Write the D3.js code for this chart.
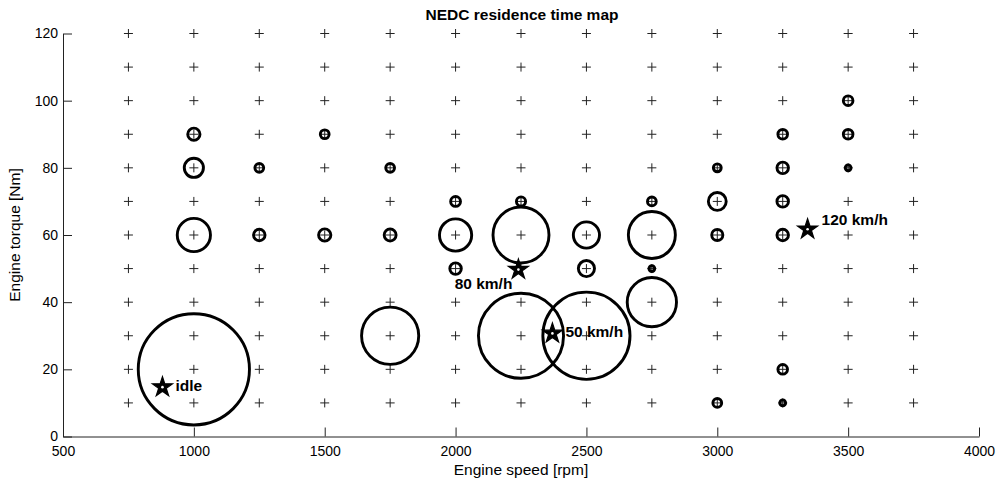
<!DOCTYPE html>
<html>
<head>
<meta charset="utf-8">
<script src="https://cdn.jsdelivr.net/npm/d3@7"></script>
<style>
  body { margin: 0; background: #fff; }
  text { font-family: "Liberation Sans", Arial, sans-serif; fill: #000; }
</style>
</head>
<body>
<script>
// grid of operating points (plus markers)
const gridSpeeds = [750, 1000, 1250, 1500, 1750, 2000, 2250, 2500, 2750, 3000, 3250, 3500, 3750];
const gridTorques = [10, 20, 30, 40, 50, 60, 70, 80, 90, 100, 110, 120];

// residence time per operating point [s]
const resSpeed  = [1000, 1000, 1000, 1000, 1250, 1250, 1500, 1500, 1750, 1750, 1750, 2000, 2000, 2000, 2250, 2250, 2250, 2500, 2500, 2500, 2750, 2750, 2750, 2750, 3000, 3000, 3000, 3000, 3250, 3250, 3250, 3250, 3250, 3250, 3500, 3500, 3500];
const resTorque = [20,   60,   80,   90,   80,   60,   60,   90,   80,   60,   30,   70,   60,   50,   70,   60,   30,   60,   50,   30,   70,   60,   50,   40,   80,   70,   60,   10,   90,   80,   70,   60,   20,   10,   100,  90,   80];
const resTime   = [280,  25,   8.3,  3.4,  1.75, 3.0,  3.4,  1.75, 1.75, 3.2,  74,   2.2,  23.5, 3.0,  1.9,  71,   164,  15.5, 5.9,  172,  1.75, 50,   0.75, 55,   1.4,  7.2,  2.8,  1.75, 2.1,  3.0,  3.0,  3.0,  2.1,  0.75, 2.1,  2.1,  0.75];

// vehicle speed reference points
const starSpeed  = [880, 2240, 2370, 3345];
const starTorque = [15, 50, 31, 62];
const starLabels = ['idle', '80 km/h', '50 km/h', '120 km/h'];

const xTicks = [500, 1000, 1500, 2000, 2500, 3000, 3500, 4000];
const yTicks = [0, 20, 40, 60, 80, 100, 120];

const width = 998, height = 481;

const x = d3.scaleLinear().domain([500, 4000]).range([63, 979]);
const y = d3.scaleLinear().domain([0, 120]).range([436.5, 33.5]);
const r = d3.scaleSqrt().domain([0, 280]).range([0, 55.6]);

const svg = d3.select('body')
  .append('svg')
  .attr('width', width)
  .attr('height', height);

// plus markers
const grid = [];
gridSpeeds.forEach(s => gridTorques.forEach(t => grid.push({ s, t })));

svg.append('g')
  .selectAll('path')
  .data(grid)
  .join('path')
  .attr('transform', d => `translate(${x(d.s)},${y(d.t)})`)
  .attr('d', 'M-4.5,0H4.5M0,-4.5V4.5')
  .style('stroke', '#222')
  .style('stroke-width', 1)
  .style('fill', 'none');

// residence time circles
const res = resSpeed.map((s, i) => ({ s, t: resTorque[i], v: resTime[i] }));

svg.append('g')
  .selectAll('circle')
  .data(res)
  .join('circle')
  .attr('cx', d => x(d.s))
  .attr('cy', d => y(d.t))
  .attr('r', d => r(d.v))
  .style('fill', 'none')
  .style('stroke', '#000')
  .style('stroke-width', 2.9);

// axes
const xAxis = d3.axisBottom(x).tickValues(xTicks).tickFormat(d3.format('d'))
  .tickSizeInner(-9).tickSizeOuter(0).tickPadding(10);
const yAxis = d3.axisLeft(y).tickValues(yTicks).tickFormat(d3.format('d'))
  .tickSizeInner(-9).tickSizeOuter(0).tickPadding(5);

const gx = svg.append('g')
  .attr('class', 'x axis')
  .attr('transform', `translate(0,${y(0)})`)
  .call(xAxis);

const gy = svg.append('g')
  .attr('class', 'y axis')
  .attr('transform', `translate(${x(500)},0)`)
  .call(yAxis);

[gx, gy].forEach(g => {
  g.selectAll('path, line').style('stroke', '#222').style('stroke-width', 1);
  g.selectAll('text')
    .style('font-size', '14px')
    .style('font-family', '"Liberation Sans", Arial, sans-serif')
    .style('fill', '#000');
});

// stars + labels
const stars = starSpeed.map((s, i) => ({ s, t: starTorque[i], label: starLabels[i] }));
const labelPos = [
  { dx: 13, dy: 5, anchor: 'start' },
  { dx: -6, dy: 20, anchor: 'end' },
  { dx: 13, dy: 5, anchor: 'start' },
  { dx: 14, dy: -3, anchor: 'start' }
];

const star = d3.symbol().type(d3.symbolStar).size(125);

const gs = svg.append('g')
  .selectAll('g')
  .data(stars)
  .join('g')
  .attr('transform', d => `translate(${x(d.s)},${y(d.t) + 1})`);

gs.append('path')
  .attr('d', star)
  .style('fill', '#000')
  .style('stroke', '#000')
  .style('stroke-width', 1.2);

gs.append('circle')
  .attr('r', 1.3)
  .style('fill', '#fff');

svg.append('g')
  .selectAll('text')
  .data(stars)
  .join('text')
  .attr('x', (d, i) => x(d.s) + labelPos[i].dx)
  .attr('y', (d, i) => y(d.t) + labelPos[i].dy)
  .attr('text-anchor', (d, i) => labelPos[i].anchor)
  .style('font-size', '15.5px')
  .style('font-weight', 'bold')
  .text(d => d.label);

// titles
svg.append('text')
  .attr('x', 522)
  .attr('y', 20)
  .attr('text-anchor', 'middle')
  .style('font-size', '15.5px')
  .style('font-weight', 'bold')
  .text('NEDC residence time map');

svg.append('text')
  .attr('x', 521)
  .attr('y', 475)
  .attr('text-anchor', 'middle')
  .style('font-size', '15.5px')
  .text('Engine speed [rpm]');

svg.append('text')
  .attr('transform', 'translate(20,235) rotate(-90)')
  .attr('text-anchor', 'middle')
  .style('font-size', '15.5px')
  .text('Engine torque [Nm]');
</script>
</body>
</html>
